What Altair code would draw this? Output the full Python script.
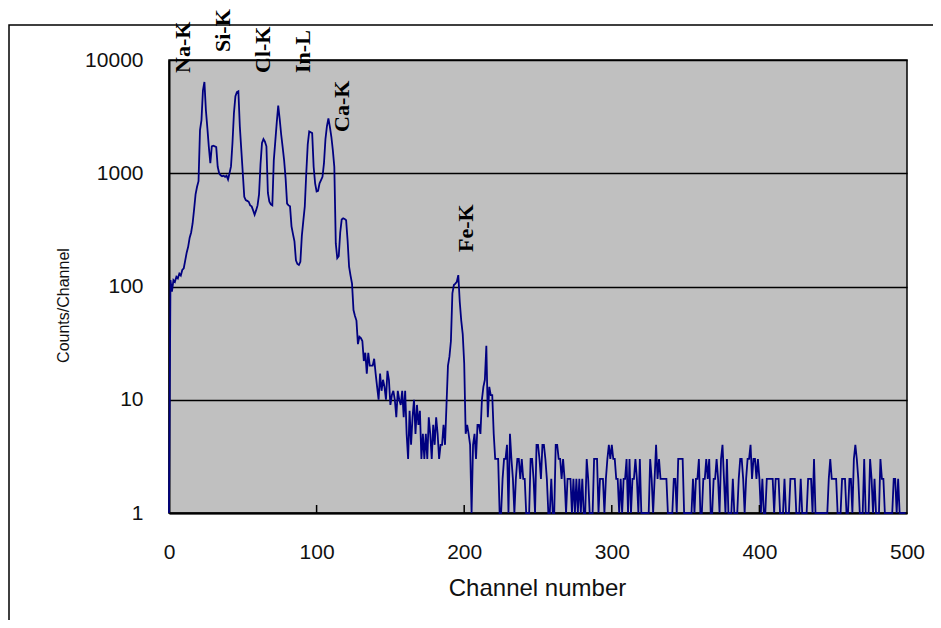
import altair as alt
import pandas as pd

# Counts per channel (channel 0..499)
counts = [
    1,114,90,114,110,122,118,130,125,140,
    145,170,200,225,270,300,360,480,650,760,
    850,2400,2950,5400,6400,3600,2500,1700,1230,1730,
    1750,1730,1700,1140,1000,960,940,950,930,950,
    880,1000,1150,1850,3400,4800,5200,5300,2570,1600,
    1000,620,580,570,560,520,510,470,430,470,
    520,650,1200,1850,2000,1900,1730,670,560,530,
    520,1300,1900,2800,3960,3000,2200,1700,1300,900,
    540,520,510,340,290,250,170,158,155,165,
    280,380,510,1000,1800,2340,2300,2260,1140,815,
    690,700,815,870,930,1230,2000,2600,3050,2570,
    2100,1600,1140,240,178,185,300,390,400,395,
    385,255,150,125,106,62,55,50,31,36,
    35,33,22,26,17,26,20,20,20,23,
    17,13,10,17,12,15,13,10,18,15,
    9,11,12,10,7,12,10,9,12,7,
    12,5,3,8,4,7,10,5,9,6,
    8,3,5,3,5,3,7,5,3,6,
    4,7,5,3,4,4,6,4,9,20,
    24,33,87,103,106,110,126,73,50,38,
    21,5,6,5,4,1,4,5,3,6,
    6,5,10,13,15,30,7,13,11,11,
    5,3,3,3,1,1,2,3,3,4,
    1,5,3,2,1,2,3,3,2,3,
    2,2,1,1,1,3,3,2,1,4,
    4,3,2,4,4,3,2,1,1,2,
    1,1,4,4,3,3,2,3,2,1,
    2,2,2,1,2,1,2,1,2,1,
    2,1,1,3,2,1,1,1,3,3,
    3,1,2,2,2,1,2,3,4,3,
    4,3,3,2,2,1,2,1,2,2,
    3,1,3,1,2,2,3,2,1,3,
    1,1,1,1,1,1,3,2,1,2,
    4,2,3,2,2,2,2,2,1,1,
    1,1,2,2,1,3,3,3,3,1,
    1,1,1,1,1,2,1,2,2,3,
    1,1,2,2,3,2,3,1,1,2,
    2,3,2,1,3,4,2,1,3,1,
    1,1,2,1,1,1,2,3,3,2,
    1,2,3,3,4,2,3,3,2,3,
    2,1,2,1,1,2,2,2,2,2,
    1,2,2,2,1,1,1,2,1,1,
    1,2,2,2,2,1,1,1,2,1,
    1,1,1,2,2,2,1,3,1,1,
    1,1,1,1,1,1,1,2,3,2,
    2,2,2,1,1,1,2,2,2,1,
    1,2,2,1,3,4,3,2,1,1,
    1,3,1,1,1,3,2,1,2,1,
    1,1,3,2,2,1,1,1,1,1,
    1,2,2,1,2,1,1,1,1,1,
]
channels = list(range(len(counts)))

# Peak labels
peak_names = ["Na-K", "Si-K", "Cl-K", "In-L", "Ca-K", "Fe-K"]
peak_channels = [9.8, 36.9, 63.9, 91.0, 117.4, 201.3]
peak_label_y = [7680, 11770, 7680, 7680, 2313, 202]

x_ticks = [0, 100, 200, 300, 400, 500]
y_ticks = [1, 10, 100, 1000, 10000]
inner_ticks = [100, 200, 300, 400]

spec = pd.DataFrame({"channel": channels, "counts": counts})
peaks = pd.DataFrame({"name": peak_names, "channel": peak_channels, "y": peak_label_y})
ticks = pd.DataFrame({"channel": inner_ticks})
frame_df = pd.DataFrame({"a": [0]})

xscale = alt.Scale(domain=[0, 500], nice=False, zero=False)
yscale = alt.Scale(type="log", domain=[1, 10000], nice=False)

x_axis = alt.Axis(
    values=x_ticks, grid=False, ticks=False, labelFlush=False, labelOverlap=False,
    labelFont="Liberation Sans", labelFontSize=21, labelColor="#111", labelPadding=28,
    domainColor="black", domainWidth=2,
    title="Channel number", titleFont="Liberation Sans", titleFontSize=24,
    titleFontWeight="normal", titleColor="#111", titleX=368, titleY=75,
    titleBaseline="middle", titleAlign="center",
)
y_axis = alt.Axis(
    values=y_ticks, format="d", grid=True, gridColor="black", gridWidth=1.5,
    ticks=False, labelFlush=False, labelOverlap=False,
    labelFont="Liberation Sans", labelFontSize=21, labelColor="#111", labelPadding=26,
    domainColor="black", domainWidth=2,
    title="Counts/Channel", titleFont="Liberation Sans", titleFontSize=16,
    titleFontWeight="normal", titleColor="#111", titleX=-106, titleY=245,
    titleAngle=270, titleAlign="center", titleBaseline="middle",
)

frame = alt.Chart(frame_df).mark_rect(
    fill="transparent", stroke="black", strokeWidth=1.5
).encode(
    x=alt.value(-160), x2=alt.value(800), y=alt.value(-35), y2=alt.value(700)
)

line = alt.Chart(spec).mark_line(color="#000080", strokeWidth=1.8).encode(
    x=alt.X("channel:Q", scale=xscale, axis=x_axis),
    y=alt.Y("counts:Q", scale=yscale, axis=y_axis),
)

tick_marks = alt.Chart(ticks).mark_rule(color="black", strokeWidth=1.5).encode(
    x=alt.X("channel:Q", scale=xscale),
    y=alt.value(453), y2=alt.value(445),
)

labels = alt.Chart(peaks).mark_text(
    angle=270, align="left", baseline="middle",
    font="Liberation Serif", fontSize=22, fontWeight="bold", color="black",
).encode(
    x=alt.X("channel:Q", scale=xscale),
    y=alt.Y("y:Q", scale=yscale),
    text="name:N",
)

chart = alt.layer(frame, line, tick_marks, labels).properties(
    width=738, height=453,
    autosize=alt.AutoSizeParams(type="none"),
    padding={"left": 161, "top": 52, "right": 26, "bottom": 107},
    background="white",
).configure_view(
    fill="#C0C0C0", stroke="black", strokeWidth=1.5,
)

chart.save("out.html", embed_options={"renderer": "svg", "actions": False})
